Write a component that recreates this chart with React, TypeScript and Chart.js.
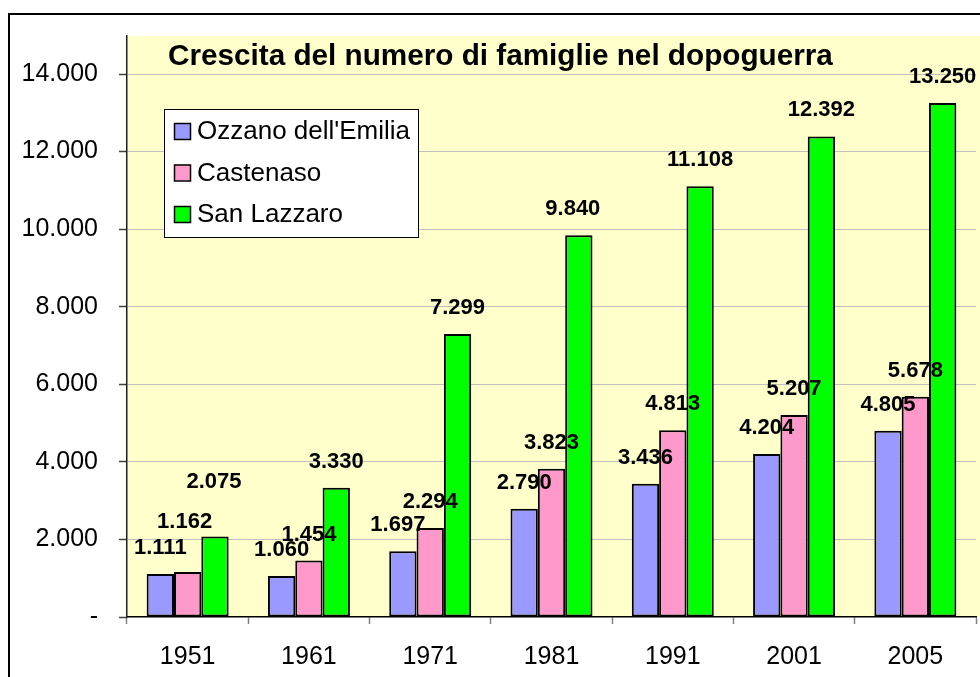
import React, { useEffect, useRef } from "react";
import { Chart, registerables } from "chart.js";

Chart.register(...registerables);

const categories = ["1951", "1961", "1971", "1981", "1991", "2001", "2005"];
const seriesNames = ["Ozzano dell'Emilia", "Castenaso", "San Lazzaro"];
const ozzano = [1111, 1060, 1697, 2790, 3436, 4204, 4805];
const castenaso = [1162, 1454, 2294, 3823, 4813, 5207, 5678];
const sanLazzaro = [2075, 3330, 7299, 9840, 11108, 12392, 13250];
const yTicks = [0, 2000, 4000, 6000, 8000, 10000, 12000, 14000];
const titleText = "Crescita del numero di famiglie nel dopoguerra";

// styling: extra vertical nudges of value labels (px), per series
const labelNudgeY = [
  [0, 0, 0, 0, 0, 0, 0],
  [-24, 0, 0, 0, 0, 0, 0],
  [-29, 0, 0, 0, 0, 0, 0],
];
const labelNudgeX = [
  [0, 0, -5, 0, 0, 0, 0],
  [-3, 0, 0, 0, 0, 0, 0],
  [-1, 0, 0, -6, 0, 0, 0],
];

const colors = ["#9999FF", "#FF99CC", "#00FF00"];
const FONT = "'Liberation Sans', Arial, Helvetica, sans-serif";

const fmt = (v: number) =>
  v === 0 ? "-" : String(v).replace(/\B(?=(\d{3})+(?!\d))/g, ".");

const decorPlugin = {
  id: "decor",
  beforeDraw(chart: any) {
    const { ctx, chartArea } = chart;
    ctx.save();
    ctx.fillStyle = "#FFFFFF";
    ctx.fillRect(0, 0, chart.width, chart.height);
    ctx.fillStyle = "#FFFFCC";
    ctx.fillRect(chartArea.left, chartArea.top, chart.width - chartArea.left, chartArea.bottom - chartArea.top);
    ctx.strokeStyle = "#000";
    ctx.lineWidth = 2;
    ctx.strokeRect(9, 14, 1200, 1200);
    ctx.restore();
  },
  afterDatasetsDraw(chart: any) {
    const { ctx } = chart;
    ctx.save();
    ctx.font = `bold 22px ${FONT}`;
    ctx.fillStyle = "#000";
    ctx.textAlign = "center";
    ctx.textBaseline = "middle";
    chart.data.datasets.forEach((ds: any, di: number) => {
      const meta = chart.getDatasetMeta(di);
      meta.data.forEach((bar: any, i: number) => {
        const v = ds.data[i];
        ctx.fillText(fmt(v), bar.x + labelNudgeX[di][i], bar.y - 26 + labelNudgeY[di][i]);
      });
    });
    // title inside plot area
    ctx.font = `bold 29.7px ${FONT}`;
    ctx.textAlign = "left";
    ctx.fillText(titleText, 168, 57);
    // legend box
    const lx = 164, ly = 109, lw = 254, lh = 128;
    ctx.fillStyle = "#FFFFFF";
    ctx.fillRect(lx, ly, lw, lh);
    ctx.strokeStyle = "#000";
    ctx.lineWidth = 1;
    ctx.strokeRect(lx + 0.5, ly + 0.5, lw, lh);
    ctx.font = `26px ${FONT}`;
    chart.data.datasets.forEach((ds: any, di: number) => {
      const cy = 131 + di * 41.5;
      ctx.fillStyle = ds.backgroundColor;
      ctx.fillRect(174, cy - 8, 16, 16);
      ctx.strokeStyle = "#000";
      ctx.lineWidth = 1.5;
      ctx.strokeRect(174.5, cy - 7.5, 16, 16);
      ctx.fillStyle = "#000";
      ctx.fillText(ds.label, 197, cy + 1);
    });
    ctx.restore();
  },
};

export default function App() {
  const ref = useRef<HTMLCanvasElement>(null);
  useEffect(() => {
    if (!ref.current) return;
    const chart = new Chart(ref.current, {
      type: "bar",
      data: {
        labels: categories,
        datasets: [ozzano, castenaso, sanLazzaro].map((d, i) => ({
          label: seriesNames[i],
          data: d,
          backgroundColor: colors[i],
          borderColor: "#000",
          borderWidth: 2,
          borderSkipped: false,
          categoryPercentage: 0.676,
          barPercentage: 1,
        })),
      },
      options: {
        responsive: false,
        animation: false,
        layout: { padding: { left: 0, top: 35, right: 4, bottom: 0 } },
        plugins: {
          legend: { display: false },
          title: { display: false },
          tooltip: { enabled: false },
        },
        scales: {
          x: {
            grid: {
              offset: true,
              drawOnChartArea: false,
              drawTicks: true,
              tickLength: 7,
              tickColor: "#808080",
              tickWidth: 1.5,
            },
            border: { color: "#000", width: 1.5 },
            ticks: {
              color: "#000",
              font: { family: FONT, size: 25 },
              padding: 18,
              maxRotation: 0,
            },
            afterFit(scale: any) {
              scale.height = 60;
            },
          },
          y: {
            min: 0,
            max: 14980,
            afterBuildTicks(scale: any) {
              scale.ticks = yTicks.map((v) => ({ value: v }));
            },
            grid: {
              color: (c: any) => (c.tick && c.tick.value === 0 ? "rgba(0,0,0,0)" : "#C0C0C0"),
              borderDash: [5, 4],
              lineWidth: 1,
              drawTicks: true,
              tickLength: 8,
              tickColor: "#404040",
              tickWidth: 1.5,
            },
            border: { color: "#202020", width: 1.5 },
            ticks: {
              color: "#000",
              font: { family: FONT, size: 25 },
              padding: 21,
              callback: (v: any) => fmt(Number(v)),
            },
            afterFit(scale: any) {
              scale.width = 127;
            },
          },
        },
      },
      plugins: [decorPlugin],
    });
    return () => chart.destroy();
  }, []);
  return (
    <div style={{ position: "fixed", left: 0, top: 0, width: 980, height: 677 }}>
      <canvas ref={ref} width={980} height={677} style={{ display: "block" }} />
    </div>
  );
}
